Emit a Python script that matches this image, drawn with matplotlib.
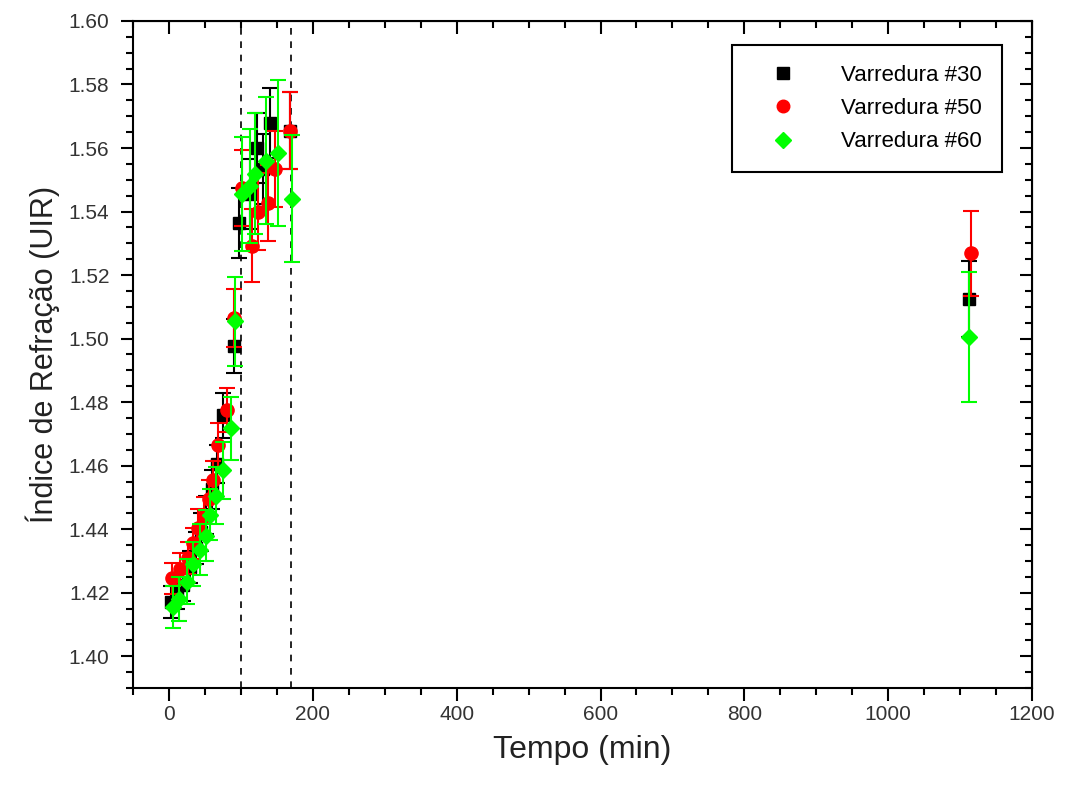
import matplotlib
matplotlib.use("Agg")
import matplotlib.pyplot as plt
from matplotlib.lines import Line2D
from matplotlib.ticker import MultipleLocator

plt.rcParams['font.family'] = ['Liberation Sans', 'DejaVu Sans']

# Varredura #30 (quadrados pretos)
t30 = [3, 11, 20, 29, 37, 45, 52, 60, 67, 75, 90, 98, 112, 122, 130, 140, 168, 1112]
n30 = [1.4170, 1.4198, 1.4225, 1.4280, 1.4340, 1.4390, 1.4445, 1.4525, 1.4605, 1.4758,
       1.4978, 1.5363, 1.5456, 1.5600, 1.5535, 1.5680, 1.5655, 1.5125]
e30 = [0.005, 0.005, 0.005, 0.005, 0.005, 0.006, 0.006, 0.006, 0.006, 0.007,
       0.0085, 0.011, 0.011, 0.011, 0.011, 0.011, 0.012, 0.012]

# Varredura #50 (circulos vermelhos)
t50 = [4, 15, 26, 34, 41, 48, 55, 61, 68, 80, 91, 101, 115, 124, 138, 147, 168, 1115]
n50 = [1.4245, 1.4275, 1.4310, 1.4355, 1.4405, 1.4440, 1.4495, 1.4555, 1.4665, 1.4775,
       1.5065, 1.5475, 1.5292, 1.5400, 1.5428, 1.5535, 1.5655, 1.5268]
e50 = [0.005, 0.005, 0.005, 0.005, 0.006, 0.006, 0.006, 0.006, 0.007, 0.007,
       0.009, 0.012, 0.0115, 0.012, 0.012, 0.012, 0.012, 0.0133]

# Varredura #60 (losangos verdes)
t60 = [6, 14, 25, 34, 43, 52, 57, 66, 75, 86, 92, 101, 112, 120, 135, 152, 171, 1113]
n60 = [1.4155, 1.4180, 1.4235, 1.4290, 1.4335, 1.4380, 1.4445, 1.4505, 1.4585, 1.4717,
       1.5055, 1.5456, 1.5480, 1.5519, 1.5560, 1.5585, 1.5440, 1.5006]
e60 = [0.0065, 0.007, 0.007, 0.007, 0.008, 0.008, 0.008, 0.009, 0.009, 0.010,
       0.014, 0.018, 0.018, 0.019, 0.020, 0.023, 0.020, 0.0205]

linhas = [100, 170]

series = [
    (t30, n30, e30, 's', 'black', 8.5, 'Varredura #30'),
    (t50, n50, e50, 'o', '#ff0000', 9.5, 'Varredura #50'),
    (t60, n60, e60, 'D', '#00ff00', 8.5, 'Varredura #60'),
]

fig = plt.figure(figsize=(10.67, 7.91), dpi=100)
ax = fig.add_axes([0.1247, 0.1302, 0.8425, 0.8433])

for x in linhas:
    ax.axvline(x, color='black', ls=(0, (4, 4)), lw=1.2, zorder=1)

handles = []
for i, (t, n, e, m, c, ms, lab) in enumerate(series):
    ax.errorbar(t, n, yerr=e, fmt=m, color=c, ms=ms, linestyle='none',
                capsize=6, elinewidth=1.5, capthick=1.5, zorder=3 + i)
    handles.append(Line2D([], [], marker=m, color=c, ms=ms * 0.95, linestyle='none', label=lab))

ax.set_xlim(-50, 1200)
ax.set_ylim(1.39, 1.60)
ax.xaxis.set_major_locator(MultipleLocator(200))
ax.xaxis.set_minor_locator(MultipleLocator(50))
ax.yaxis.set_major_locator(MultipleLocator(0.02))
ax.yaxis.set_minor_locator(MultipleLocator(0.005))
ax.yaxis.set_major_formatter(plt.FuncFormatter(lambda v, p: f"{v:.2f}"))

ax.tick_params(which='both', direction='out', width=1.5, labelsize=15, labelcolor='#333333')
ax.tick_params(which='major', length=9)
ax.tick_params(which='minor', length=5)
ax.tick_params(axis='y', pad=8)
for s in ax.spines.values():
    s.set_linewidth(1.5)

# eixos superior e direito com marcas para dentro
top = ax.secondary_xaxis('top')
top.xaxis.set_major_locator(MultipleLocator(200))
top.xaxis.set_minor_locator(MultipleLocator(50))
top.tick_params(which='both', direction='in', width=1.5, labeltop=False)
top.tick_params(which='major', length=9)
top.tick_params(which='minor', length=5)
right = ax.secondary_yaxis('right')
right.yaxis.set_major_locator(MultipleLocator(0.02))
right.yaxis.set_minor_locator(MultipleLocator(0.005))
right.tick_params(which='both', direction='in', width=1.5, labelright=False)
right.tick_params(which='major', length=9)
right.tick_params(which='minor', length=5)

ax.set_xlabel('Tempo (min)', fontsize=23, labelpad=8, color='#222222')
ax.set_ylabel('Índice de Refração (UIR)', fontsize=22, labelpad=6, color='#222222')

leg = ax.legend(handles=handles, loc='upper right', bbox_to_anchor=(0.9666, 0.964), fontsize=16,
                fancybox=False, edgecolor='black', framealpha=1, borderpad=0.9, borderaxespad=0,
                handlelength=2.8, handletextpad=1.2, labelspacing=0.55)
leg.get_frame().set_linewidth(1.5)

fig.savefig('out.png', dpi=100)
